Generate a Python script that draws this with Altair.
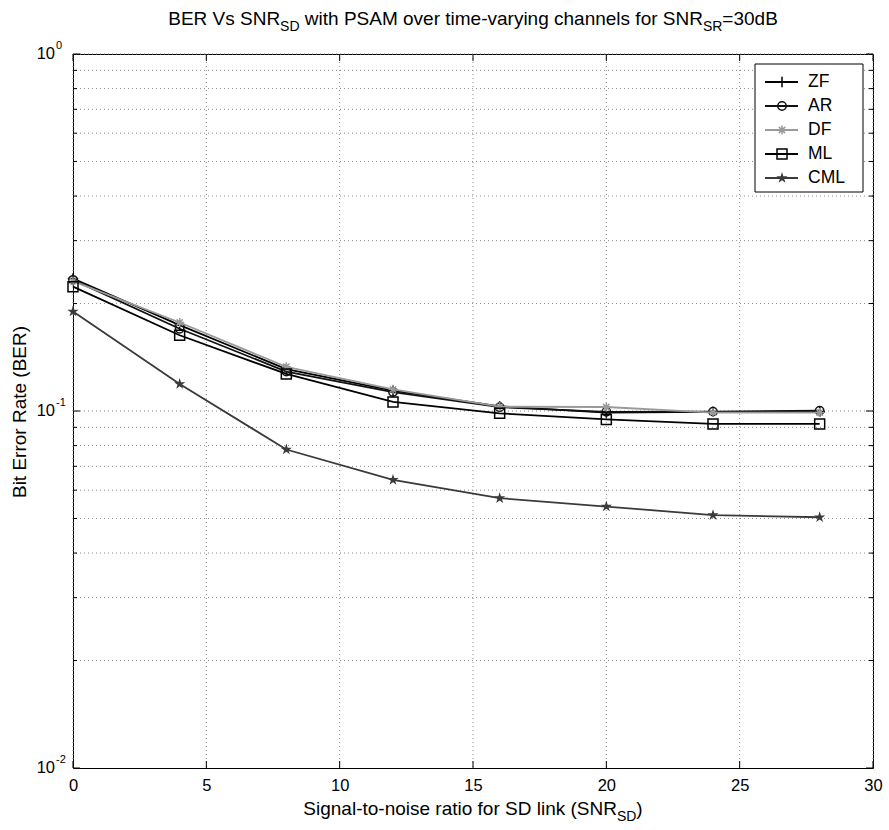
import altair as alt
import pandas as pd

# ---------------- data ----------------
snr = [0, 4, 8, 12, 16, 20, 24, 28]
ber_zf = [0.235, 0.174, 0.131, 0.114, 0.103, 0.099, 0.0995, 0.0995]
ber_ar = [0.233, 0.170, 0.129, 0.113, 0.1025, 0.0995, 0.0996, 0.1002]
ber_df = [0.231, 0.177, 0.133, 0.115, 0.1028, 0.1026, 0.099, 0.099]
ber_ml = [0.223, 0.163, 0.127, 0.106, 0.0985, 0.0947, 0.092, 0.092]
ber_cml = [0.190, 0.119, 0.078, 0.0641, 0.0570, 0.0540, 0.0511, 0.0504]
series_names = ["ZF", "AR", "DF", "ML", "CML"]
series_values = [ber_zf, ber_ar, ber_df, ber_ml, ber_cml]

x_ticks = [0, 5, 10, 15, 20, 25, 30]
y_decades = [1.0, 0.1, 0.01]
y_exponents = ["0", "-1", "-2"]
y_minor = [k * 10.0 ** e for e in (-2, -1) for k in range(2, 10)]

title_pieces = [("BER Vs SNR", False), ("SD", True),
                (" with PSAM over time-varying channels for SNR", False),
                ("SR", True), ("=30dB", False)]
xtitle_pieces = [("Signal-to-noise ratio for SD link (SNR", False), ("SD", True), (")", False)]
ytitle_text = "Bit Error Rate (BER)"

# ---------------- styles ----------------
W, H = 800, 714
FONT = "Liberation Sans"
PLUS = "M-1,0L1,0M0,-1L0,1"
AST = "M-1,0L1,0M0,-1L0,1M-0.7,-0.7L0.7,0.7M-0.7,0.7L0.7,-0.7"
STAR = ("M0,-1L0.2245,-0.309L0.951,-0.309L0.363,0.118L0.588,0.809L0,0.382"
        "L-0.588,0.809L-0.363,0.118L-0.951,-0.309L-0.2245,-0.309Z")
shapes = [PLUS, "circle", AST, "square", STAR]
colors = ["#000000", "#111111", "#9a9a9a", "#000000", "#3a3a3a"]
sizes = [110, 70, 80, 100, 140]
filled = [False, False, False, False, True]

# Arial / Liberation Sans advance widths (1/1000 em) for text layout
ADV = {" ": 278, "(": 333, ")": 333, "-": 333, "=": 584, "0": 556, "3": 556,
       "A": 667, "B": 667, "D": 722, "E": 667, "M": 833, "N": 722, "P": 667,
       "R": 722, "S": 667, "V": 667,
       "a": 556, "c": 500, "d": 556, "e": 556, "f": 278, "g": 556, "h": 556,
       "i": 222, "k": 500, "l": 222, "m": 833, "n": 556, "o": 556, "r": 333,
       "s": 500, "t": 278, "v": 500, "w": 722, "y": 500}


def tw(s, size):
    return sum(ADV.get(c, 556) for c in s) * size / 1000.0


xs = alt.Scale(domain=[0, 30], nice=False, zero=False)
ys = alt.Scale(type="log", domain=[0.01, 1], nice=False)

X_AXIS = alt.Axis(values=x_ticks, format="d", labelFont=FONT, labelFontSize=16.5,
                  labelColor="black", labelPadding=9, labelFlush=False, ticks=False,
                  domain=False, grid=False, title=None, orient="bottom")

# grid
grid_x = alt.Chart(pd.DataFrame({"x": x_ticks})).mark_rule(
    color="#8a8a8a", strokeDash=[1, 3], strokeWidth=1
).encode(x=alt.X("x:Q", scale=xs, axis=X_AXIS))

grid_vals = y_minor + [0.1, 1.0]
grid_y = alt.Chart(pd.DataFrame({"y": grid_vals})).mark_rule(
    color="#8a8a8a", strokeDash=[1, 3], strokeWidth=1
).encode(y=alt.Y("y:Q", scale=ys, axis=None))

# inward ticks
xt = pd.DataFrame({"x": x_ticks})
yd = pd.DataFrame({"y": y_decades})
ym = pd.DataFrame({"y": y_minor})
tick_top = alt.Chart(xt).mark_rule(color="black").encode(
    x=alt.X("x:Q", scale=xs, axis=X_AXIS), y=alt.value(0), y2=alt.value(7))
tick_bot = alt.Chart(xt).mark_rule(color="black").encode(
    x=alt.X("x:Q", scale=xs, axis=X_AXIS), y=alt.value(H - 7), y2=alt.value(H))
tick_l = alt.Chart(yd).mark_rule(color="black").encode(
    y=alt.Y("y:Q", scale=ys, axis=None), x=alt.value(0), x2=alt.value(7))
tick_r = alt.Chart(yd).mark_rule(color="black").encode(
    y=alt.Y("y:Q", scale=ys, axis=None), x=alt.value(W - 7), x2=alt.value(W))
tick_lm = alt.Chart(ym).mark_rule(color="black").encode(
    y=alt.Y("y:Q", scale=ys, axis=None), x=alt.value(0), x2=alt.value(4))
tick_rm = alt.Chart(ym).mark_rule(color="black").encode(
    y=alt.Y("y:Q", scale=ys, axis=None), x=alt.value(W - 4), x2=alt.value(W))

# y tick labels 10^e
ylab = pd.DataFrame({"y": y_decades, "exp": y_exponents, "base": ["10"] * 3})
ylab_base = alt.Chart(ylab).mark_text(
    font=FONT, fontSize=16.5, align="right", baseline="middle", color="black"
).encode(y=alt.Y("y:Q", scale=ys, axis=None), x=alt.value(-18), text="base:N")
ylab_exp = alt.Chart(ylab).mark_text(
    font=FONT, fontSize=11, align="left", baseline="middle", color="black", dy=-8
).encode(y=alt.Y("y:Q", scale=ys, axis=None), x=alt.value(-17), text="exp:N")

# series: one line + one marker layer each
series_layers = []
for i, (name, vals) in enumerate(zip(series_names, series_values)):
    d = pd.DataFrame({"snr": snr, "ber": vals, "series": [name] * len(snr)})
    base = alt.Chart(d).encode(
        x=alt.X("snr:Q", scale=xs, axis=X_AXIS),
        y=alt.Y("ber:Q", scale=ys, axis=None),
    )
    series_layers.append(base.mark_line(strokeWidth=1.8, color=colors[i]))
    series_layers.append(base.mark_point(
        shape=shapes[i], size=sizes[i], color=colors[i], filled=filled[i],
        strokeWidth=1.5, opacity=1))

# legend (manual, MATLAB-like)
leg_layers = [
    alt.Chart(pd.DataFrame({"a": [0]})).mark_rect(
        fill="white", stroke="black", strokeWidth=1
    ).encode(x=alt.value(682), x2=alt.value(790), y=alt.value(10), y2=alt.value(138))
]
for i, name in enumerate(series_names):
    ly = 28 + 24 * i
    d = pd.DataFrame({"series": [name]})
    leg_layers.append(alt.Chart(d).mark_rule(strokeWidth=1.8, color=colors[i]).encode(
        x=alt.value(692), x2=alt.value(725), y=alt.value(ly)))
    leg_layers.append(alt.Chart(d).mark_point(
        shape=shapes[i], size=sizes[i], color=colors[i], filled=filled[i],
        strokeWidth=1.5, opacity=1
    ).encode(x=alt.value(709), y=alt.value(ly)))
    leg_layers.append(alt.Chart(d).mark_text(
        font=FONT, fontSize=17.5, align="left", baseline="middle", color="black"
    ).encode(x=alt.value(735), y=alt.value(ly), text="series:N"))


# titles (with subscripts), laid out piece by piece and centred on the plot
def txt(s, x, y, size):
    return alt.Chart(pd.DataFrame({"t": [s]})).mark_text(
        font=FONT, fontSize=size, align="left", baseline="alphabetic", color="black"
    ).encode(x=alt.value(x), y=alt.value(y), text="t:N")


def rich(pieces, baseline, main, sub, drop):
    total = sum(tw(p, sub if s else main) for p, s in pieces)
    x = W / 2 - total / 2
    out = []
    for p, s in pieces:
        size = sub if s else main
        lead = len(p) - len(p.lstrip(" "))
        out.append(txt(p.strip(" "), x + tw(" " * lead, size), baseline + (drop if s else 0), size))
        x += tw(p, size)
    return out


title_parts = rich(title_pieces, -29, 19, 14, 6)
xtitle_parts = rich(xtitle_pieces, 761, 19, 14, 6)
ytitle = alt.Chart(pd.DataFrame({"t": [ytitle_text]})).mark_text(
    font=FONT, fontSize=19, align="center", baseline="middle", angle=270, color="black"
).encode(x=alt.value(-53), y=alt.value(358), text="t:N")

chart = alt.layer(
    grid_x, grid_y, tick_top, tick_bot, tick_l, tick_r, tick_lm, tick_rm,
    ylab_base, ylab_exp,
    *series_layers,
    *leg_layers,
    *title_parts, *xtitle_parts, ytitle,
).properties(
    width=W, height=H,
    autosize=alt.AutoSizeParams(type="none"),
    padding={"left": 73, "top": 54, "right": 16, "bottom": 62},
    background="white",
).configure_view(stroke="black", strokeWidth=1)

chart.save("out.html", embed_options={"renderer": "svg", "actions": False})
